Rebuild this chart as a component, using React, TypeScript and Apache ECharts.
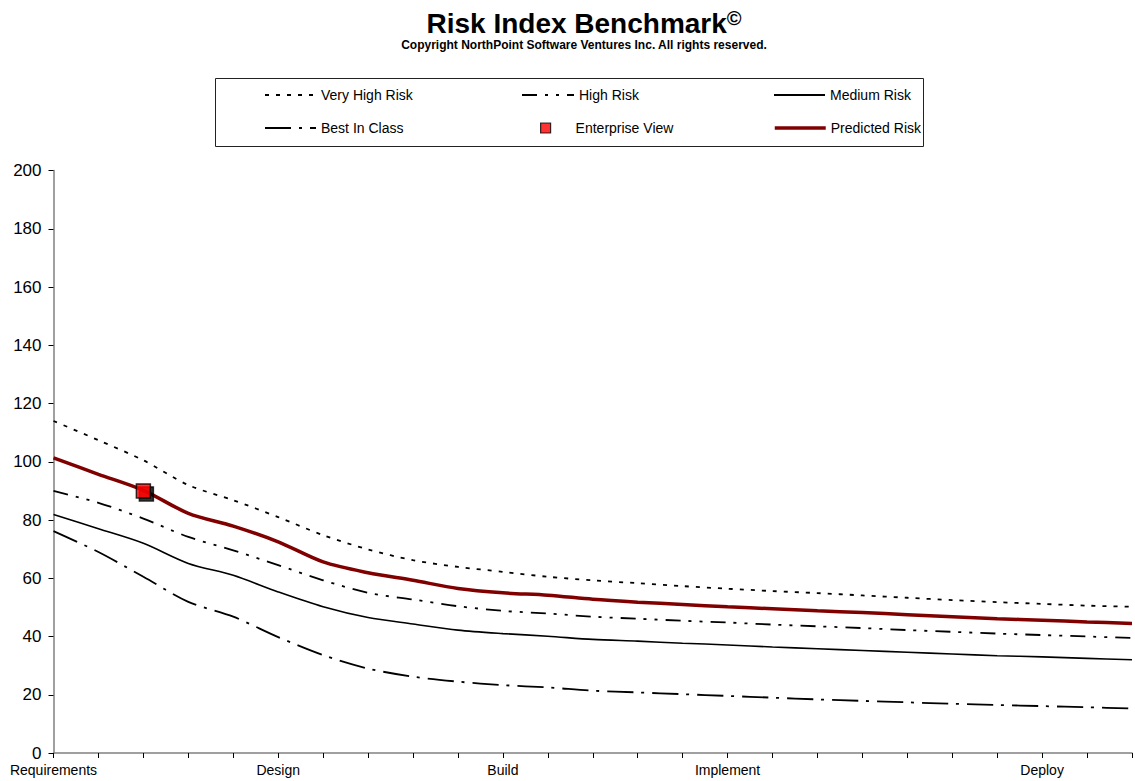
import React, { useEffect, useRef } from "react";
import * as echarts from "echarts";

const categories = [
  "Requirements", "", "", "", "", "Design", "", "", "", "", "Build", "", "", "", "", "Implement",
  "", "", "", "", "", "", "Deploy", "", "",
];
const veryHighRisk = [114, 107.4, 100.5, 92, 86.8, 81, 74.8, 69.9, 66.2, 63.9, 62.2, 60.5, 59.3, 58.3, 57.3, 56.4, 55.6, 54.9, 54.1, 53.3, 52.5, 51.8, 51.2, 50.6, 50.2];
const highRisk = [90, 85.9, 80.5, 74.2, 69.6, 64.5, 59.3, 55, 52.7, 50.4, 48.8, 47.9, 46.8, 46.1, 45.4, 44.8, 44.1, 43.5, 42.9, 42.2, 41.6, 41, 40.5, 40, 39.5];
const mediumRisk = [81.9, 77, 72, 65.1, 61, 55.3, 50.2, 46.5, 44.3, 42.2, 41, 40.1, 39, 38.4, 37.7, 37.1, 36.4, 35.8, 35.2, 34.6, 34, 33.4, 33, 32.5, 32];
const bestInClass = [76.2, 69, 60.5, 51.9, 46.8, 39.8, 33.6, 29, 26.2, 24.5, 23.3, 22.5, 21.4, 20.8, 20.2, 19.6, 19, 18.4, 17.9, 17.4, 16.9, 16.5, 16.1, 15.7, 15.3];
const predictedRisk = [101.3, 95.7, 90.2, 82.3, 77.9, 72.5, 65.6, 61.9, 59.3, 56.5, 55, 54.2, 52.8, 51.8, 51, 50.2, 49.5, 48.8, 48.2, 47.5, 46.8, 46.1, 45.6, 45, 44.5];
const enterpriseView = [[2, 90]];
const yMin = 0;
const yMax = 200;
const yInterval = 20;

const FONT = 'Arial, "Liberation Sans", sans-serif';

export default function App() {
  const ref = useRef<HTMLDivElement>(null);
  useEffect(() => {
    if (!ref.current) return;
    const chart = echarts.init(ref.current, null, { renderer: "svg" });
    const legendText = { fontSize: 14, color: "#000", fontFamily: FONT };
    const hiddenSymbol = { color: "transparent", borderColor: "transparent", borderWidth: 0, opacity: 0 };
    const lg = (name: string, left: number, top: number, itemWidth: number, extra: any = {}) => ({
      data: [name],
      left,
      top,
      itemWidth,
      itemHeight: 10,
      padding: 0,
      itemGap: 0,
      selectedMode: false,
      textStyle: legendText,
      itemStyle: hiddenSymbol,
      ...extra,
    });
    const lineSeries = (name: string, data: number[], color: string, width: number, type: any) => ({
      type: "line",
      name,
      data,
      smooth: 0.3,
      symbol: "none",
      showSymbol: false,
      lineStyle: { color, width, type },
      itemStyle: { color },
    });
    chart.setOption({
      animation: false,
      backgroundColor: "#fff",
      title: {
        left: 579,
        top: 3,
        textAlign: "center",
        text: "{t|Risk Index Benchmark}{s|©}",
        textStyle: {
          rich: {
            t: { fontSize: 28, fontWeight: "bold", fontFamily: FONT, color: "#000", lineHeight: 30 },
            s: { fontSize: 20, fontWeight: "bold", fontFamily: FONT, color: "#000", verticalAlign: "top", lineHeight: 20 },
          },
        },
        subtext: "Copyright NorthPoint Software Ventures Inc. All rights reserved.",
        subtextStyle: { fontSize: 12, fontWeight: "bold", color: "#000", fontFamily: FONT, lineHeight: 13 },
        itemGap: 1,
      },
      legend: [
        lg("Very High Risk", 264, 88, 51),
        lg("High Risk", 521, 88, 52),
        lg("Medium Risk", 773, 88, 51),
        lg("Best In Class", 264, 121, 51),
        lg("Enterprise View", 540, 121, 10, {
          textStyle: { ...legendText, padding: [0, 0, 0, 20] },
          itemStyle: { shadowColor: "transparent", shadowOffsetX: 0, shadowOffsetY: 0, borderWidth: 1.2 },
        }),
        lg("Predicted Risk", 773, 121, 51, { lineStyle: { width: 3.5, color: "#800000" } }),
      ],
      graphic: [
        {
          type: "rect",
          shape: { x: 215.5, y: 78.5, width: 708, height: 68 },
          style: { fill: "none", stroke: "#222", lineWidth: 1 },
          z: -1,
        },
      ],
      grid: { left: 53.5, right: -6, top: 170.5, bottom: 28 },
      xAxis: {
        type: "category",
        data: categories,
        boundaryGap: false,
        axisLine: { show: true, lineStyle: { color: "#808080", width: 1.5 } },
        axisTick: { show: true, interval: 0, length: 5, lineStyle: { color: "#000" } },
        axisLabel: { interval: 0, fontSize: 14, color: "#000", margin: 10, fontFamily: FONT },
        splitLine: { show: false },
      },
      yAxis: {
        type: "value",
        min: yMin,
        max: yMax,
        interval: yInterval,
        axisLine: { show: true, lineStyle: { color: "#808080", width: 1.5 } },
        axisTick: { show: true, length: 5, lineStyle: { color: "#000" } },
        axisLabel: { fontSize: 17, color: "#000", margin: 12, fontFamily: FONT },
        splitLine: { show: false },
      },
      series: [
        lineSeries("Very High Risk", veryHighRisk, "#000", 1.8, [4, 7]),
        lineSeries("High Risk", highRisk, "#000", 1.8, [15, 8, 3, 8, 3, 8]),
        lineSeries("Medium Risk", mediumRisk, "#000", 1.6, "solid"),
        lineSeries("Best In Class", bestInClass, "#000", 1.8, [26, 8, 3, 8]),
        {
          type: "scatter",
          name: "Enterprise View",
          data: enterpriseView,
          symbol: "rect",
          symbolSize: 14,
          z: 10,
          itemStyle: {
            color: "#ff0000",
            borderColor: "#000",
            borderWidth: 1.5,
            shadowColor: "#000",
            shadowOffsetX: 3,
            shadowOffsetY: 3,
            shadowBlur: 0,
          },
        },
        { ...lineSeries("Predicted Risk", predictedRisk, "#800000", 3.5, "solid"), z: 5 },
      ],
    });
    return () => chart.dispose();
  }, []);
  return (
    <div
      ref={ref}
      style={{ position: "fixed", left: 0, top: 0, width: 1135, height: 781, background: "#fff" }}
    />
  );
}
